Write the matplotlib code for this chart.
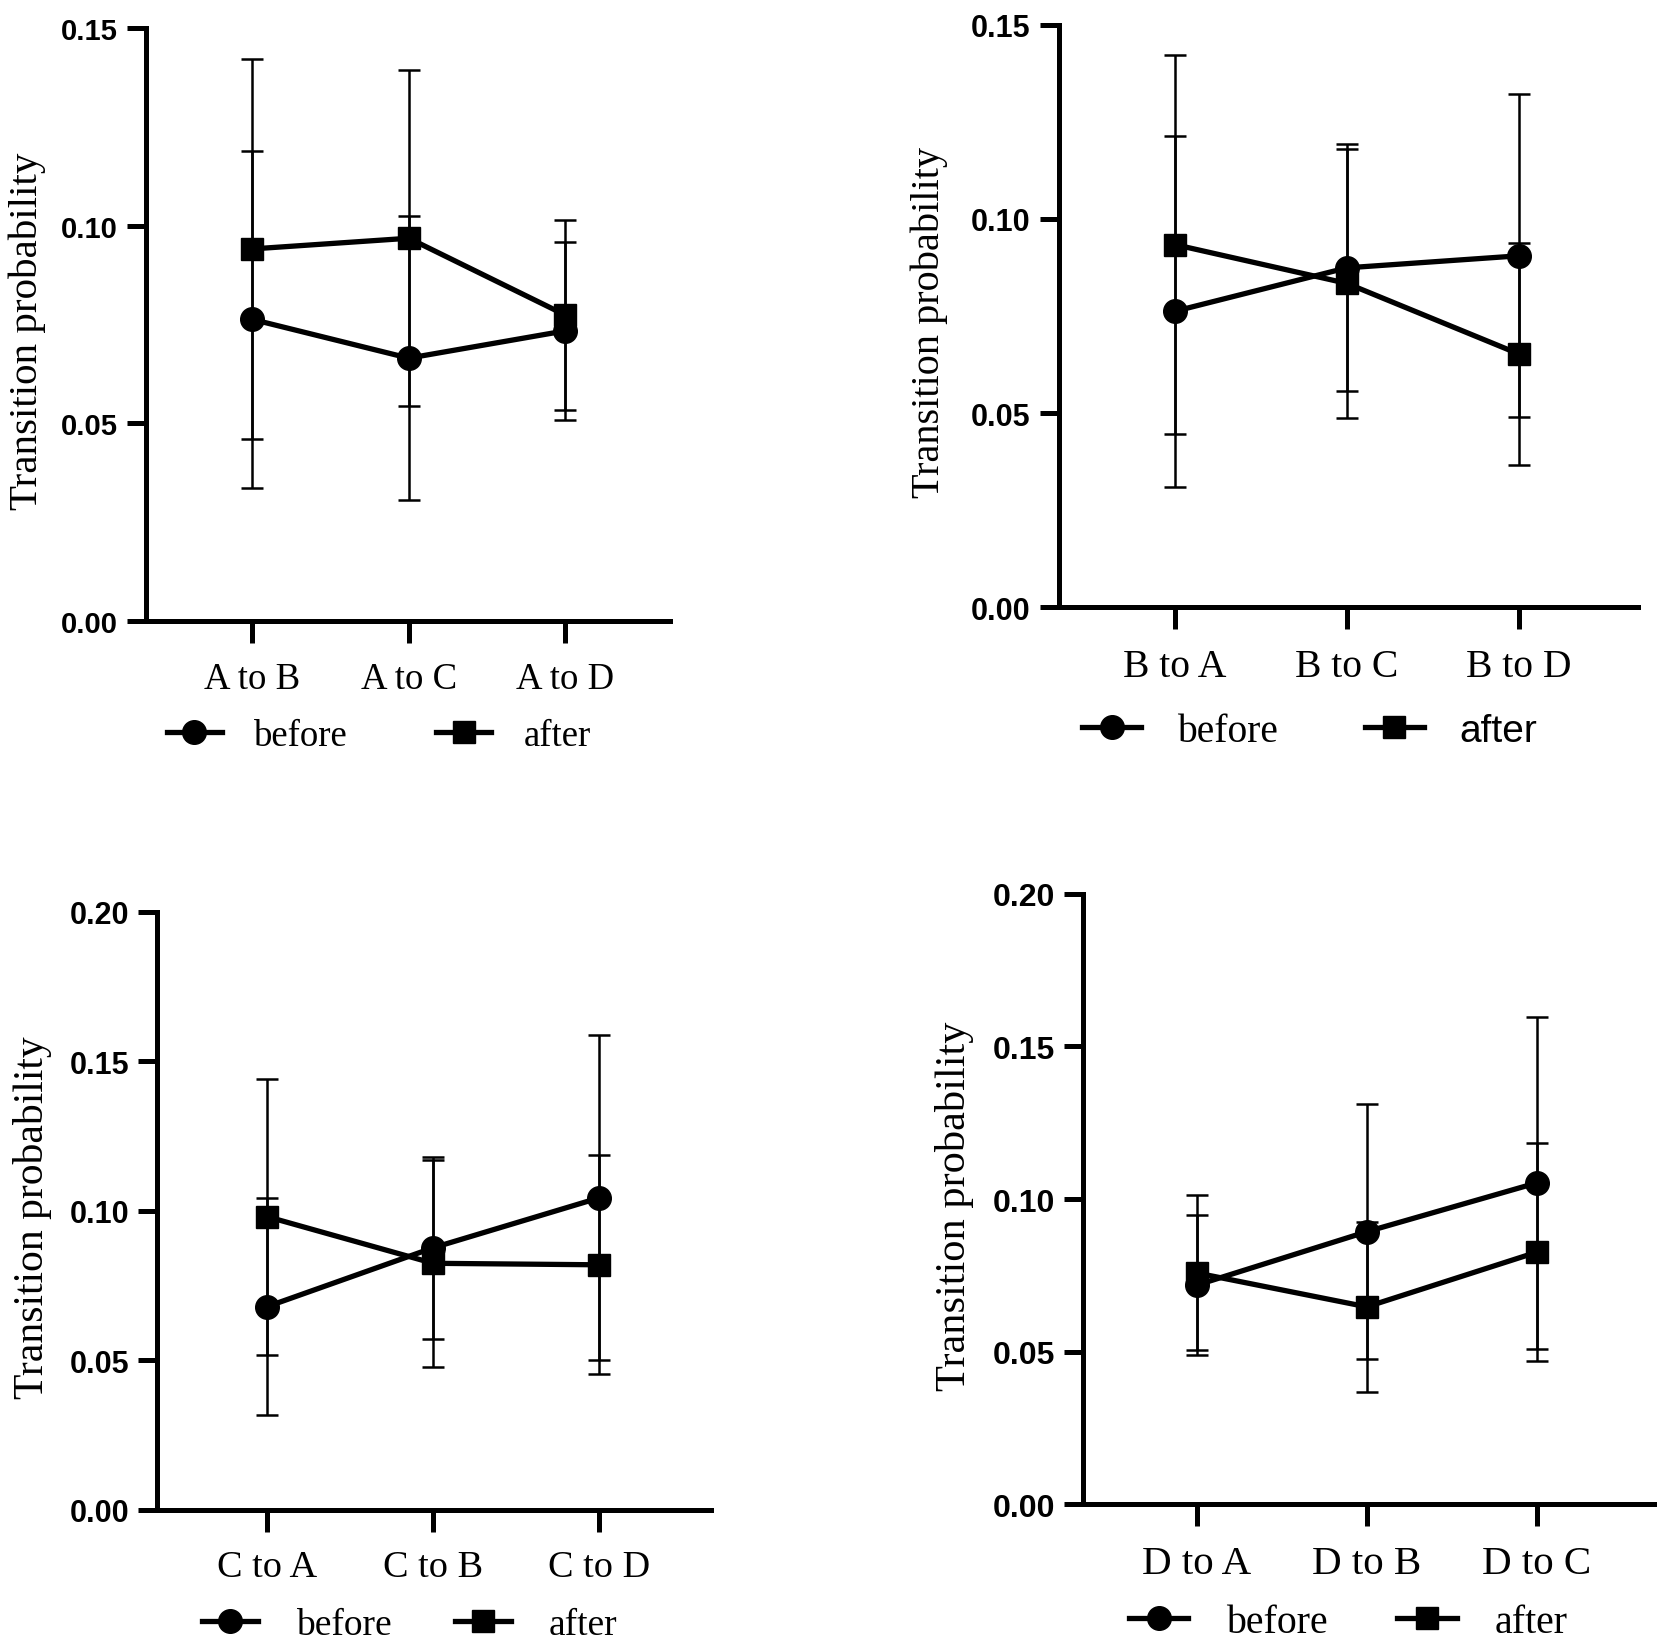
import matplotlib
matplotlib.use("Agg")
import matplotlib.pyplot as plt
from matplotlib.lines import Line2D

# data (mean and symmetric error)
cats_a = ["A to B", "A to C", "A to D"]
before_a = [0.0763, 0.0665, 0.0734]
before_a_err = [0.0425, 0.0359, 0.0225]
after_a = [0.0941, 0.0968, 0.0774]
after_a_err = [0.0480, 0.0424, 0.0239]

cats_b = ["B to A", "B to C", "B to D"]
before_b = [0.0762, 0.0874, 0.0905]
before_b_err = [0.0452, 0.0318, 0.0416]
after_b = [0.0934, 0.0834, 0.0652]
after_b_err = [0.0488, 0.0346, 0.0285]

cats_c = ["C to A", "C to B", "C to D"]
before_c = [0.0679, 0.0876, 0.1043]
before_c_err = [0.0364, 0.0305, 0.0543]
after_c = [0.0980, 0.0824, 0.0819]
after_c_err = [0.0462, 0.0346, 0.0366]

cats_d = ["D to A", "D to B", "D to C"]
before_d = [0.0718, 0.0893, 0.1053]
before_d_err = [0.0230, 0.0418, 0.0543]
after_d = [0.0758, 0.0647, 0.0826]
after_d_err = [0.0254, 0.0278, 0.0358]

y_ticks_top = [0.00, 0.05, 0.10, 0.15]
y_ticks_bottom = [0.00, 0.05, 0.10, 0.15, 0.20]

SERIF = "Liberation Serif"
SANS = "Liberation Sans"

fig = plt.figure(figsize=(16.68, 16.49), dpi=100)

# each panel: rect, xlim, legend centre, data..., sizes
# sizes = (tick, category, legend, ylabel, handletextpad, columnspacing)
panels = [
    dict(rect=[0.0874, 0.6226, 0.3144, 0.3600], xl=(-0.68, 2.67), leg=(0.444, -0.192),
         cats=cats_a, bef=before_a, bef_err=before_a_err, aft=after_a, aft_err=after_a_err,
         yt=y_ticks_top, sizes=(21, 26.5, 26.5, 29.5, 0.87, 2.4), sans_after=False),
    dict(rect=[0.6346, 0.6310, 0.3475, 0.3535], xl=(-0.673, 2.69), leg=(0.433, -0.213),
         cats=cats_b, bef=before_b, bef_err=before_b_err, aft=after_b, aft_err=after_b_err,
         yt=y_ticks_top, sizes=(22, 28.5, 28.5, 29, 0.89, 2.2), sans_after=True),
    dict(rect=[0.0944, 0.0839, 0.3316, 0.3626], xl=(-0.66, 2.67), leg=(0.456, -0.192),
         cats=cats_c, bef=before_c, bef_err=before_c_err, aft=after_c, aft_err=after_c_err,
         yt=y_ticks_bottom, sizes=(22, 27.5, 27, 30, 1.0, 1.7), sans_after=False),
    dict(rect=[0.6492, 0.0871, 0.3425, 0.3703], xl=(-0.669, 2.69), leg=(0.464, -0.193),
         cats=cats_d, bef=before_d, bef_err=before_d_err, aft=after_d, aft_err=after_d_err,
         yt=y_ticks_bottom, sizes=(23, 29.5, 28.7, 30.5, 0.93, 1.76), sans_after=False),
]

for p in panels:
    ax = fig.add_axes(p["rect"])
    x = list(range(len(p["cats"])))
    tick_fs, cat_fs, leg_fs, ylab_fs, tpad, cspace = p["sizes"]

    ax.errorbar(x, p["bef"], yerr=p["bef_err"], fmt="none", ecolor="black",
                elinewidth=1.8, capsize=8, capthick=1.8, zorder=2)
    ax.errorbar(x, p["aft"], yerr=p["aft_err"], fmt="none", ecolor="black",
                elinewidth=1.8, capsize=8, capthick=1.8, zorder=2)
    ax.plot(x, p["bef"], color="black", lw=3.8, marker="o", ms=17, zorder=3)
    ax.plot(x, p["aft"], color="black", lw=3.8, marker="s", ms=16, zorder=3)

    yt = p["yt"]
    ax.set_xlim(*p["xl"])
    ax.set_ylim(yt[0], yt[-1])
    ax.set_xticks(x)
    ax.set_xticklabels(p["cats"], fontsize=cat_fs, family=SERIF)
    ax.set_yticks(yt)
    ax.set_yticklabels(["%.2f" % v for v in yt], fontsize=tick_fs,
                       family=SANS, fontweight="bold")

    for s in ["top", "right"]:
        ax.spines[s].set_visible(False)
    for s in ["left", "bottom"]:
        ax.spines[s].set_linewidth(3.6)
        ax.spines[s].set_capstyle("projecting")
    ax.tick_params(axis="x", length=16, width=3.6, pad=13)
    ax.tick_params(axis="y", length=14, width=3.6, pad=6)

    ax.set_ylabel("Transition probability", fontsize=ylab_fs, family=SERIF)
    ax.yaxis.set_label_coords(-0.19, 0.49)

    handles = [
        Line2D([], [], color="black", lw=3.8, marker="o", ms=17),
        Line2D([], [], color="black", lw=3.8, marker="s", ms=16),
    ]
    leg = ax.legend(handles, ["before", "after"], loc="center",
                    bbox_to_anchor=p["leg"], ncol=2, frameon=False,
                    prop={"family": SERIF, "size": leg_fs},
                    handlelength=1.5, handletextpad=tpad, columnspacing=cspace)
    if p["sans_after"]:
        leg.get_texts()[1].set_family(SANS)
        leg.get_texts()[1].set_fontsize(28)

fig.savefig("out.png", dpi=100)
